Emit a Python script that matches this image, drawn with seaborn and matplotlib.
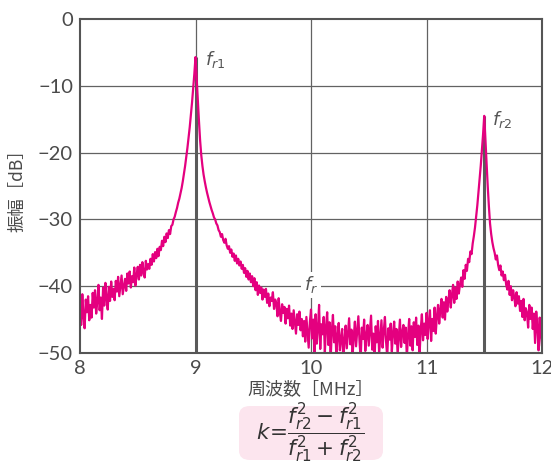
import numpy as np
import pandas as pd
import matplotlib
matplotlib.use("Agg")
import matplotlib.pyplot as plt
from matplotlib.patches import FancyBboxPatch
import seaborn as sns

# ---------------- data ----------------
freq_start = 8.0      # MHz
freq_step = 0.01      # MHz

# amplitude [dB], one value per 0.01 MHz, grouped by region
left_wing = [  # 8.00 - 8.79
    -42.5, -45.8, -41.2, -44.6, -46.3, -42.0, -43.9, -41.5, -45.1, -42.8,
    -44.7, -41.0, -43.2, -40.6, -44.1, -42.3, -39.8, -43.6, -41.7, -44.9,
    -40.2, -42.9, -39.5, -41.8, -43.5, -40.1, -42.2, -39.3, -41.6, -40.4,
    -42.1, -39.2, -40.8, -38.6, -41.5, -39.9, -38.4, -41.2, -40.0, -38.9,
    -40.7, -38.1, -39.6, -37.8, -40.2, -38.5, -39.4, -37.2, -39.9, -38.3,
    -37.1, -39.0, -36.8, -38.4, -36.4, -37.9, -38.7, -36.2, -37.5, -36.7,
    -37.4, -35.9, -36.8, -35.2, -36.3, -34.9, -35.8, -34.4, -35.5, -34.1,
    -34.6, -33.2, -34.0, -32.6, -33.4, -32.1, -32.8, -31.6, -32.2, -31.0,
]
peak1 = [  # 8.80 - 9.19
    -30.8, -30.0, -29.6, -28.9, -28.3, -27.5, -26.9, -26.1, -25.3, -24.3,
    -23.2, -22.0, -20.7, -19.3, -17.8, -16.2, -14.4, -12.5, -10.4, -8.2,
    -5.7, -9.0, -12.2, -15.3, -18.2, -20.4, -22.0, -23.3, -24.3, -25.2,
    -26.0, -26.7, -27.4, -28.0, -28.6, -29.1, -29.7, -30.0, -30.6, -30.9,
]
right_wing1 = [  # 9.20 - 9.99
    -31.6, -31.9, -32.6, -32.2, -33.1, -33.5, -32.9, -33.9, -34.4, -34.0,
    -35.0, -34.5, -35.6, -35.1, -36.2, -35.4, -36.6, -35.9, -36.9, -36.3,
    -37.4, -36.8, -38.0, -37.3, -38.6, -37.7, -39.0, -38.1, -39.4, -38.5,
    -40.0, -38.8, -40.6, -39.4, -41.3, -39.9, -41.0, -40.2, -42.0, -40.5,
    -41.6, -40.4, -42.5, -41.1, -43.0, -41.7, -42.2, -40.9, -43.4, -42.0,
    -42.6, -44.5, -41.8, -43.9, -45.2, -42.7, -44.0, -43.1, -45.6, -43.4,
    -44.8, -42.9, -45.9, -44.1, -46.4, -43.6, -45.3, -47.1, -44.2, -45.8,
    -43.8, -46.6, -44.9, -47.5, -45.2, -48.3, -44.6, -46.9, -49.2, -45.4,
]
floor = [  # 10.00 - 10.99
    -43.5, -47.8, -45.0, -50.5, -44.2, -48.6, -46.3, -42.8, -49.4, -45.7,
    -47.2, -44.6, -49.9, -46.1, -43.9, -48.8, -45.4, -51.0, -46.7, -44.3,
    -48.4, -46.0, -50.8, -47.3, -45.5, -49.6, -47.9, -46.4, -51.2, -48.1,
    -45.9, -49.3, -47.0, -44.8, -48.7, -46.5, -50.4, -47.6, -45.3, -49.0,
    -46.8, -44.5, -48.2, -50.9, -46.2, -47.9, -45.0, -49.7, -47.4, -45.8,
    -48.9, -46.6, -44.4, -49.5, -47.1, -51.3, -46.0, -48.4, -45.2, -50.1,
    -47.5, -45.1, -49.2, -46.7, -44.6, -48.3, -50.6, -46.3, -48.0, -45.6,
    -49.8, -47.0, -45.3, -48.6, -46.4, -50.2, -47.7, -45.0, -49.1, -46.9,
    -45.8, -48.5, -46.2, -50.7, -47.3, -44.9, -48.9, -46.0, -49.6, -45.4,
    -47.6, -44.7, -48.8, -45.9, -50.3, -46.5, -44.2, -48.1, -45.6, -47.3,
]
left_wing2 = [  # 11.00 - 11.39
    -44.0, -47.9, -45.3, -43.6, -48.2, -44.9, -46.7, -43.2, -47.1, -44.5,
    -42.8, -45.6, -43.5, -41.9, -44.7, -42.4, -45.0, -41.6, -43.8, -42.1,
    -40.6, -43.2, -41.3, -39.8, -42.5, -40.2, -41.9, -39.3, -41.1, -39.7,
    -38.7, -40.1, -37.6, -38.9, -36.8, -37.7, -35.9, -36.4, -34.8, -35.2,
]
peak2 = [  # 11.40 - 11.59
    -33.6, -32.5, -31.2, -29.6, -27.9, -25.8, -23.9, -21.9, -19.6, -17.2,
    -14.5, -18.0, -21.8, -25.0, -28.0, -30.6, -32.2, -33.4, -34.3, -35.0,
]
right_wing2 = [  # 11.60 - 12.00
    -36.0, -35.4, -36.8, -37.6, -36.9, -38.4, -37.8, -39.1, -38.3, -39.8,
    -40.5, -39.2, -41.3, -40.0, -42.1, -40.6, -41.7, -43.0, -40.9, -42.6,
    -41.5, -43.7, -42.2, -44.6, -41.9, -45.1, -43.3, -44.0, -46.2, -42.8,
    -44.9, -43.2, -46.4, -44.1, -48.5, -43.8, -46.0, -49.6, -44.7, -47.2,
    -49.0,
]

x_ticks = [8, 9, 10, 11, 12]
y_ticks = [0, -10, -20, -30, -40, -50]
x_label = "周波数［MHz］"
y_label = "振幅［dB］"
resonances = [9.0, 11.5]

amplitude = left_wing + peak1 + right_wing1 + floor + left_wing2 + peak2 + right_wing2
freq = freq_start + freq_step * np.arange(len(amplitude))
df = pd.DataFrame({"freq": freq, "amp": amplitude})

# ---------------- style ----------------
sns.set_style("white")
plt.rcParams["font.family"] = ["Lato", "Noto Sans CJK JP", "DejaVu Sans"]
plt.rcParams["mathtext.fontset"] = "dejavusans"

MAGENTA = "#E4007F"
GRID = "#626262"
TEXT = "#4a4a4a"
CJK = ["Noto Sans CJK JP", "DejaVu Sans"]

fig = plt.figure(figsize=(5.51, 4.67), dpi=100)
ax = fig.add_axes([80 / 551, 1 - 353 / 467, (542 - 80) / 551, (353 - 19) / 467])

sns.lineplot(data=df, x="freq", y="amp", ax=ax, color=MAGENTA, linewidth=1.6,
             zorder=3, errorbar=None)

# grid
for xv in x_ticks[1:-1]:
    ax.axvline(xv, color=GRID, lw=0.9, zorder=1)
for yv in y_ticks[1:-1]:
    ax.axhline(yv, color=GRID, lw=0.9, zorder=1)

# resonance markers: thick line from bottom to peak
for fr in resonances:
    mask = (df["freq"] - fr).abs() < 0.05
    peak = df.loc[mask, "amp"].max()
    ax.vlines(fr, -50, peak, color="#5a5a5a", lw=2.2, zorder=2)

ax.set_xlim(8, 12)
ax.set_ylim(-50, 0)
ax.set_xticks(x_ticks)
ax.set_yticks(y_ticks)
ax.set_xticklabels([str(v) for v in x_ticks])
ax.set_yticklabels(["0" if v == 0 else "\u2212" + str(abs(v)) for v in y_ticks])
ax.tick_params(length=0, labelsize=14.5, colors=TEXT, pad=5)

for s in ax.spines.values():
    s.set_color("#555555")
    s.set_linewidth(1.5)
    s.set_zorder(5)

ax.set_xlabel(x_label, fontsize=13, color=TEXT, family=CJK, labelpad=2)
ax.set_ylabel(y_label, fontsize=12.5, color=TEXT, family=CJK, labelpad=8)

# annotations
ax.text(9.08, -6.0, r"$f_{r1}$", fontsize=13, color="#555555", ha="left", va="center", zorder=4)
ax.text(11.57, -15.0, r"$f_{r2}$", fontsize=13, color="#555555", ha="left", va="center", zorder=4)
ax.text(10.0, -39.8, r"$f_r$", fontsize=13, color="#555555", ha="center", va="center", zorder=4,
        bbox=dict(boxstyle="square,pad=0.15", fc="white", ec="none"))

# formula box
box = FancyBboxPatch((239 / 551, 1 - 460 / 467), (383 - 239) / 551, (460 - 406) / 467,
                     boxstyle="round,pad=0,rounding_size=0.02", transform=fig.transFigure,
                     fc="#FCE5EE", ec="none")
fig.patches.append(box)
fig.text(310 / 551, 1 - 433 / 467,
         r"$k\!=\!\dfrac{f_{r2}^2-f_{r1}^2}{f_{r1}^2+f_{r2}^2}$",
         fontsize=15.5, color="#333333", ha="center", va="center")

fig.savefig("out.png", dpi=100)
